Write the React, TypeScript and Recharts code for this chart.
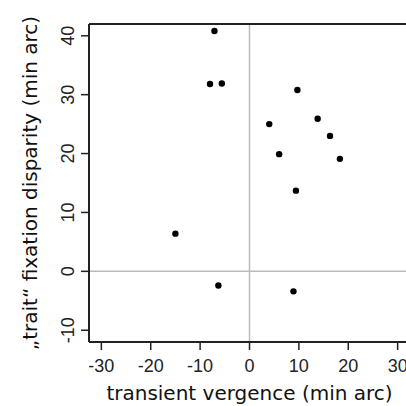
import { ScatterChart, Scatter, XAxis, YAxis, ReferenceLine } from 'recharts';

const transientVergence = [-7.1, -8.0, -5.6, 9.7, 4.0, 13.8, 16.3, 6.0, 18.3, 9.4, -15.0, -6.3, 8.9];
const traitDisparity = [40.8, 31.8, 31.9, 30.8, 25.0, 25.9, 23.0, 19.9, 19.1, 13.7, 6.4, -2.4, -3.4];

const xTicks = [-30, -20, -10, 0, 10, 20, 30];
const yTicks = [-10, 0, 10, 20, 30, 40];

const xTitle = 'transient vergence (min arc)';
const yTitle = '„trait“ fixation disparity (min arc)';

const points = transientVergence.map((x, i) => ({ x, y: traitDisparity[i] }));

const AXIS = '#222';
const TICK_FONT = '"Liberation Sans", Arial, sans-serif';
const TITLE_FONT = '"DejaVu Sans", Verdana, sans-serif';

const YTick = ({ x, y, payload }: any) => (
    <text
        x={x}
        y={y}
        transform={`rotate(-90, ${x}, ${y})`}
        textAnchor="middle"
        fontFamily={TICK_FONT}
        fontSize={18}
        fill="#222"
    >
        {payload.value}
    </text>
);

const XTick = ({ x, y, payload }: any) => (
    <text x={x} y={y} dy="0.71em" textAnchor="middle" fontFamily={TICK_FONT} fontSize={18} fill="#222">
        {payload.value}
    </text>
);

const YTitle = ({ viewBox }: any) => {
    const cx = viewBox.x + 37;
    const cy = viewBox.y + viewBox.height / 2;
    return (
        <text
            x={cx}
            y={cy}
            transform={`rotate(-90, ${cx}, ${cy})`}
            textAnchor="middle"
            fontFamily={TITLE_FONT}
            fontSize={20}
            fill="#111"
        >
            {yTitle}
        </text>
    );
};

const XTitle = ({ viewBox }: any) => (
    <text
        x={viewBox.x + viewBox.width / 2}
        y={400}
        textAnchor="middle"
        fontFamily={TITLE_FONT}
        fontSize={20}
        fill="#111"
    >
        {xTitle}
    </text>
);

const Dot = ({ cx, cy }: any) => <circle cx={cx} cy={cy} r={3.2} fill="#000" />;

export default function App() {
    return (
        <div style={{ position: 'absolute', left: 0, top: 0, width: 406, height: 406, overflow: 'hidden', background: '#fff' }}>
            <ScatterChart width={420} height={406} margin={{ top: 24, right: 10, bottom: 0, left: 0 }}>
                <XAxis
                    type="number"
                    dataKey="x"
                    height={64}
                    domain={[-32.5, 32.5]}
                    ticks={xTicks}
                    allowDataOverflow
                    axisLine={{ stroke: AXIS, strokeWidth: 2 }}
                    tickLine={{ stroke: AXIS, strokeWidth: 1.5 }}
                    tickSize={8}
                    tickMargin={9}
                    tick={<XTick />}
                    label={<XTitle />}
                />
                <YAxis
                    type="number"
                    dataKey="y"
                    width={89}
                    domain={[-12, 42]}
                    ticks={yTicks}
                    allowDataOverflow
                    axisLine={{ stroke: AXIS, strokeWidth: 2 }}
                    tickLine={{ stroke: AXIS, strokeWidth: 1.5 }}
                    tickSize={8}
                    tickMargin={7}
                    tick={<YTick />}
                    label={<YTitle />}
                />
                <ReferenceLine x={0} stroke="#bbb" strokeWidth={1.5} />
                <ReferenceLine y={0} stroke="#bbb" strokeWidth={1.5} />
                <ReferenceLine y={42} stroke={AXIS} strokeWidth={2} />
                <Scatter data={points} isAnimationActive={false} shape={<Dot />} />
            </ScatterChart>
        </div>
    );
}
